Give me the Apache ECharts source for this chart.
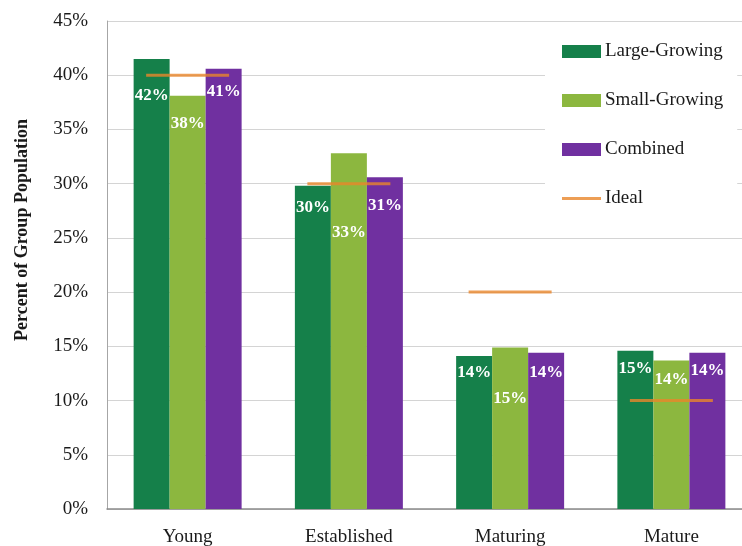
<!DOCTYPE html>
<html>
<head>
<meta charset="utf-8">
<script src="https://cdn.jsdelivr.net/npm/echarts@6/dist/echarts.min.js"></script>
<style>html,body{margin:0;padding:0;background:#fff;}#c{width:742px;height:546px;}</style>
</head>
<body>
<div id="c"></div>
<script>
// ---- data ----
var categories = ['Young', 'Established', 'Maturing', 'Mature'];
var largeGrowing = [41.5, 29.8, 14.1, 14.6];
var smallGrowing = [38.1, 32.8, 14.9, 13.7];
var combined = [40.6, 30.6, 14.4, 14.4];
var ideal = [40, 30, 20, 10];
var seriesNames = ['Large-Growing', 'Small-Growing', 'Combined', 'Ideal'];
var yTicks = [0, 5, 10, 15, 20, 25, 30, 35, 40, 45];

// ---- style config (label pixel drops, not data) ----
var labelDrop = {
  large: [37, 22, 17, 18],
  small: [28, 80, 52, 20],
  comb: [23, 29, 20, 18]
};
var FONT = 'Liberation Serif';
var colors = ['#15804A', '#8CB73F', '#7030A0', '#E8862A'];

function barSeries(name, vals, drops, color) {
  return {
    name: name,
    type: 'bar',
    barWidth: 36,
    barGap: '0%',
    itemStyle: { color: color },
    data: vals.map(function (v, i) {
      return {
        value: v,
        label: { offset: [0, drops[i] - 13] }
      };
    }),
    label: {
      show: true,
      position: 'insideTop',
      distance: 4,
      color: '#fff',
      fontFamily: FONT,
      fontWeight: 'bold',
      fontSize: 17,
      formatter: function (p) { return Math.round(p.value) + '%'; }
    }
  };
}

var chart = echarts.init(document.getElementById('c'));
chart.setOption({
  animation: false,
  backgroundColor: '#fff',
  grid: { left: 107, width: 645, top: 21, bottom: 37, containLabel: false, outerBoundsMode: 'none' },
  graphic: [{
    type: 'text',
    rotation: Math.PI / 2,
    style: {
      text: 'Percent of Group Population',
      font: 'bold 18px "' + FONT + '"',
      fill: '#1a1a1a',
      textAlign: 'center',
      textVerticalAlign: 'middle'
    },
    x: 22, y: 230
  }],
  legend: {
    orient: 'vertical',
    left: 545,
    top: 30,
    width: 192,
    padding: [12, 14, 10, 17],
    itemGap: 30,
    itemWidth: 39,
    itemHeight: 13,
    icon: 'rect',
    backgroundColor: '#fff',
    textStyle: { fontFamily: FONT, fontSize: 19, color: '#1a1a1a', padding: [0, 0, 0, -1] },
    data: [
      seriesNames[0], seriesNames[1], seriesNames[2],
      { name: seriesNames[3], icon: 'path://M0,0L0.001,0L0.001,0.001Z M0,5L39,5L39,8L0,8Z M39,13L38.999,13L38.999,12.999Z' }
    ]
  },
  xAxis: {
    type: 'category',
    data: categories,
    axisLine: { show: true, lineStyle: { color: '#8a8a8a', width: 1.5 } },
    axisTick: { show: false },
    axisLabel: { fontFamily: FONT, fontSize: 19, color: '#1a1a1a', margin: 19 },
    splitLine: { show: false }
  },
  yAxis: {
    type: 'value',
    min: yTicks[0],
    max: yTicks[yTicks.length - 1],
    interval: yTicks[1] - yTicks[0],
    axisLine: { show: true, lineStyle: { color: '#a6a6a6' } },
    axisTick: { show: false },
    axisLabel: { fontFamily: FONT, fontSize: 19, color: '#1a1a1a', margin: 19, formatter: '{value}%' },
    splitLine: { show: true, lineStyle: { color: '#d4d4d4' } }
  },
  series: [
    barSeries(seriesNames[0], largeGrowing, labelDrop.large, colors[0]),
    barSeries(seriesNames[1], smallGrowing, labelDrop.small, colors[1]),
    barSeries(seriesNames[2], combined, labelDrop.comb, colors[2]),
    {
      name: seriesNames[3],
      type: 'scatter',
      symbol: 'rect',
      symbolSize: [83, 3],
      itemStyle: { color: colors[3] },
      z: 5,
      data: ideal
    }
  ]
});
</script>
</body>
</html>
